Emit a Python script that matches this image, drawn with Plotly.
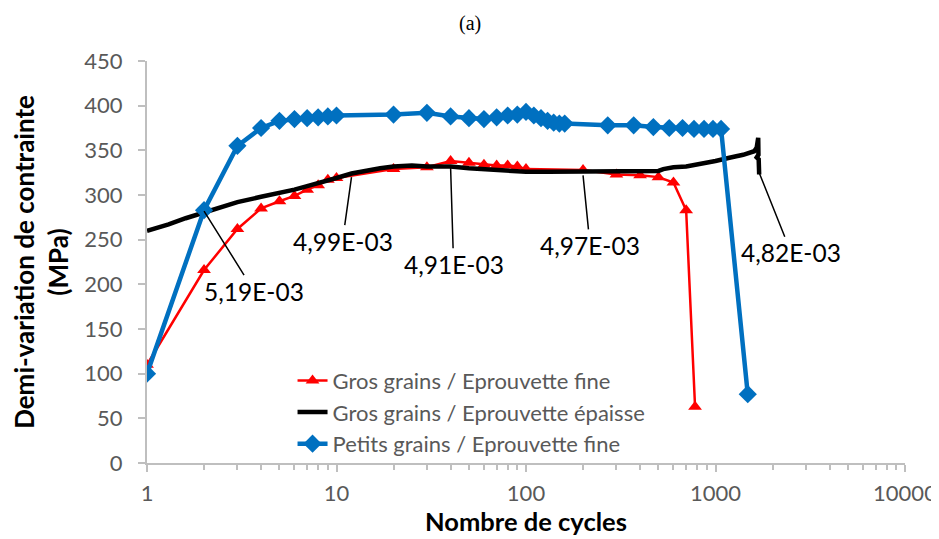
import numpy as np
import plotly.graph_objects as go

# ---------------- data ----------------
title_text = "(a)"
x_title = "Nombre de cycles"
y_title = "Demi-variation de contrainte<br>(MPa)"

red_name = "Gros grains / Eprouvette fine"
red_x = [1, 2, 3, 4, 5, 6, 7, 8, 9, 10, 20, 30, 40, 50, 60, 70, 80, 90, 100,
         200, 300, 400, 500, 600, 700, 780]
red_y = [110, 216, 262, 285, 293, 299, 306, 311, 317, 319, 329, 331, 338, 336, 334, 333, 333, 332, 329,
         328, 323, 322, 320, 314, 283, 63]

black_name = "Gros grains / Eprouvette épaisse"
black_x = [1, 1.3, 1.6, 2, 2.5, 3, 4, 5, 6, 7, 8, 9, 10, 12, 14, 17, 20, 25, 30, 40,
           50, 60, 70, 80, 100, 130, 170, 200, 300, 400, 500, 530, 560, 600, 700, 800, 900,
           1000, 1200, 1400, 1600, 1650, 1680, 1685, 1650, 1690, 1700]
black_y = [260, 267, 274, 280, 287, 292, 298, 302, 306, 310, 313, 316, 319, 324, 327, 330, 332, 333, 332, 332,
           330, 329, 328, 327, 326, 326, 326, 326, 326, 326, 327, 329, 330, 331, 332, 334, 336,
           338, 342, 345, 349, 353, 364, 345, 342, 340, 323]

blue_name = "Petits grains / Eprouvette fine"
blue_x = [1, 2, 3, 4, 5, 6, 7, 8, 9, 10, 20, 30, 40, 50, 60, 70, 80, 90, 100, 110,
          120, 130, 140, 150, 160, 270, 370, 470, 570, 670, 770, 870, 970, 1070, 1480]
blue_y = [100, 283, 355, 375, 383, 385, 386, 387, 388, 389, 390, 392, 388, 386, 385, 387, 389, 390, 393, 389,
          386, 383, 381, 380, 380, 378, 378, 376, 375, 375, 374, 374, 374, 374, 77]

x_tick_vals = [1, 10, 100, 1000, 10000]
x_tick_text = ["1", "10", "100", "1000", "10000"]
y_tick_vals = [0, 50, 100, 150, 200, 250, 300, 350, 400, 450]

ann_text = ["5,19E-03", "4,99E-03", "4,91E-03", "4,97E-03", "4,82E-03"]
ann_x = [2, 12, 40, 200, 1700]
ann_y = [282, 320, 331, 322, 325]

# ---------------- styling ----------------
# the page body has an 8px margin, so the figure is 8px smaller and shifted
ann_offsets = [(50, 80), (-9, 64), (3, 97), (7, 70), (32, 80)]
FONT = "Lato"
GREY = "#595959"
AXIS = "#BFBFBF"

fig = go.Figure()
fig.add_trace(go.Scatter(x=red_x, y=red_y, name=red_name, mode="lines+markers",
                         line=dict(color="#FF0000", width=2.5),
                         marker=dict(symbol="triangle-up", size=12, color="#FF0000")))
fig.add_trace(go.Scatter(x=black_x, y=black_y, name=black_name, mode="lines",
                         line=dict(color="#000000", width=4.5)))
fig.add_trace(go.Scatter(x=blue_x, y=blue_y, name=blue_name, mode="lines+markers",
                         line=dict(color="#0070C0", width=4.5),
                         marker=dict(symbol="diamond", size=14, color="#0070C0")))

minor_vals = [k * 10 ** d for d in range(0, 4) for k in range(2, 10)]

annotations = []
for t, xv, yv, (ax, ay) in zip(ann_text, ann_x, ann_y, ann_offsets):
    annotations.append(dict(x=np.log10(xv), y=yv, xref="x", yref="y", text=t,
                            showarrow=True, arrowhead=0, arrowwidth=1.5, arrowcolor="#000000",
                            ax=ax, ay=ay, font=dict(family=FONT, size=24.5, color="#000000")))
annotations.append(dict(x=(470 - 147) / 758, y=(463 - 24) / 402, xref="paper", yref="paper",
                        text=title_text, showarrow=False, xanchor="center", yanchor="middle",
                        font=dict(family="Liberation Serif", size=20, color="#000000")))

fig.update_layout(
    width=931, height=531,
    margin=dict(l=139, r=34, t=53, b=76),
    paper_bgcolor="white", plot_bgcolor="white",
    font=dict(family=FONT, size=22, color=GREY),
    showlegend=True,
    legend=dict(x=0.192, y=0.257, xanchor="left", yanchor="top",
                bgcolor="rgba(0,0,0,0)", font=dict(family=FONT, size=22, color=GREY),
                tracegroupgap=0),
    annotations=annotations,
)
fig.update_xaxes(type="log", range=[0, 4], tickvals=x_tick_vals, ticktext=x_tick_text,
                 automargin=False,
                 showgrid=False, zeroline=False, showline=True, linecolor=AXIS, linewidth=2,
                 ticks="outside", ticklen=7, tickcolor=AXIS, tickwidth=1.5,
                 ticklabelstandoff=3,
                 tickfont=dict(family=FONT, size=22, color=GREY),
                 minor=dict(tickvals=minor_vals, ticks="outside", ticklen=5, tickcolor=AXIS, tickwidth=1.5,
                            showgrid=False),
                 title=dict(text="<b>" + x_title + "</b>", standoff=4,
                            font=dict(family=FONT, size=25.5, color="#000000")))
fig.update_yaxes(range=[0, 450], tickvals=y_tick_vals, automargin=False,
                 showgrid=False, zeroline=False, showline=True, linecolor=AXIS, linewidth=2,
                 ticks="outside", ticklen=7, tickcolor=AXIS, tickwidth=1.5,
                 ticklabelstandoff=11,
                 tickfont=dict(family=FONT, size=22, color=GREY),
                 title=dict(text="<b>" + y_title + "</b>", standoff=13,
                            font=dict(family=FONT, size=26, color="#000000")))

fig.write_html("out.html")
